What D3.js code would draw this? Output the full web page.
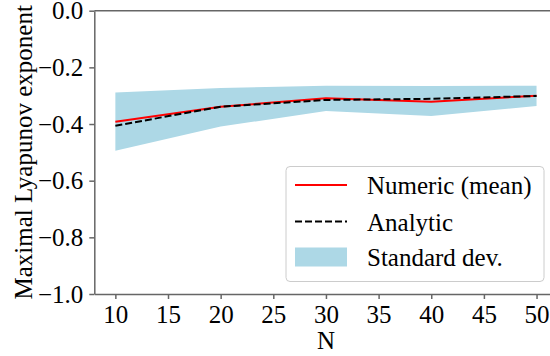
<!DOCTYPE html>
<html>
<head>
<meta charset="utf-8">
<script src="https://cdn.jsdelivr.net/npm/d3@7"></script>
<style>
  body { margin: 0; background: #fff; }
  svg text { font-family: "Liberation Serif", "Times New Roman", serif; }
</style>
</head>
<body>
<div id="container"></div>
<script>
/* DATA */
const Ns = [10, 20, 30, 40, 50];
const numericMean = [-0.392, -0.339, -0.309, -0.321, -0.300];
const analytic = [-0.406, -0.339, -0.315, -0.311, -0.301];
const stdUpper = [-0.289, -0.273, -0.265, -0.266, -0.265];
const stdLower = [-0.494, -0.409, -0.354, -0.372, -0.336];
const xTicks = [10, 15, 20, 25, 30, 35, 40, 45, 50];
const yTicks = [0, -0.2, -0.4, -0.6, -0.8, -1.0];
const legendLabels = ["Numeric (mean)", "Analytic", "Standard dev."];

/* CONSTANTS */
const width = 550, height = 356;
const fontSize = 25;

const rows = Ns.map((n, i) => ({
  N: n, mean: numericMean[i], ana: analytic[i], hi: stdUpper[i], lo: stdLower[i]
}));

// x axis is wider than the window; right spine falls outside
const xScale = d3.scaleLinear().domain([8, 52]).range([94.3, 557.6]);
const yScale = d3.scaleLinear().domain([-1, 0]).range([294, 10.7]);

const svg = d3.select("#container").append("svg")
  .attr("width", width)
  .attr("height", height);

// std band
svg.append("path")
  .datum(rows)
  .attr("fill", "#add8e6")
  .attr("d", d3.area()
    .x(d => xScale(d.N))
    .y0(d => yScale(d.lo))
    .y1(d => yScale(d.hi)));

svg.append("path")
  .datum(rows)
  .attr("fill", "none")
  .attr("stroke", "red")
  .attr("stroke-width", 2)
  .attr("d", d3.line().x(d => xScale(d.N)).y(d => yScale(d.mean)));

svg.append("path")
  .datum(rows)
  .attr("fill", "none")
  .attr("stroke", "black")
  .attr("stroke-width", 2)
  .attr("stroke-dasharray", "7,3")
  .attr("d", d3.line().x(d => xScale(d.N)).y(d => yScale(d.ana)));

// axes
const fmtY = d => d3.format(".1f")(d).replace("-", "\u2212");

const xAxisG = svg.append("g")
  .attr("transform", `translate(0,${yScale(-1)})`)
  .call(d3.axisBottom(xScale).tickValues(xTicks).tickSize(5).tickPadding(6).tickSizeOuter(0));

const yAxisG = svg.append("g")
  .attr("transform", `translate(${xScale(8)},0)`)
  .call(d3.axisLeft(yScale).tickValues(yTicks).tickFormat(fmtY).tickSize(5).tickPadding(6).tickSizeOuter(0));

[xAxisG, yAxisG].forEach(g => {
  g.attr("font-family", null).attr("font-size", fontSize);
  g.select(".domain").attr("stroke", "#666").attr("stroke-width", 1.5);
  g.selectAll(".tick line").attr("stroke", "#666").attr("stroke-width", 1.5);
  g.selectAll(".tick text").attr("fill", "black");
});

// top spine
svg.append("line")
  .attr("x1", xScale(8)).attr("x2", xScale(52))
  .attr("y1", yScale(0)).attr("y2", yScale(0))
  .attr("stroke", "#666").attr("stroke-width", 1.5);

// axis labels
svg.append("text")
  .attr("x", (xScale(8) + xScale(52)) / 2)
  .attr("y", 349)
  .attr("text-anchor", "middle")
  .attr("font-size", fontSize)
  .text("N");

svg.append("text")
  .attr("transform", `translate(32,${(yScale(0) + yScale(-1)) / 2}) rotate(-90)`)
  .attr("text-anchor", "middle")
  .attr("font-size", fontSize)
  .text("Maximal Lyapunov exponent");

// legend
const legend = svg.append("g");
legend.append("rect")
  .attr("x", 286).attr("y", 166.5)
  .attr("width", 258).attr("height", 115)
  .attr("rx", 4)
  .attr("fill", "white").attr("fill-opacity", 0.8)
  .attr("stroke", "#ccc").attr("stroke-width", 1);

const itemY = [185, 221.5, 257];
legend.append("line")
  .attr("x1", 295).attr("x2", 347).attr("y1", itemY[0]).attr("y2", itemY[0])
  .attr("stroke", "red").attr("stroke-width", 2);
legend.append("line")
  .attr("x1", 295).attr("x2", 347).attr("y1", itemY[1]).attr("y2", itemY[1])
  .attr("stroke", "black").attr("stroke-width", 2).attr("stroke-dasharray", "7,3");
legend.append("rect")
  .attr("x", 295).attr("y", itemY[2] - 9.5)
  .attr("width", 52).attr("height", 19)
  .attr("fill", "#add8e6");

legend.selectAll("text.lab")
  .data(legendLabels)
  .join("text")
  .attr("class", "lab")
  .attr("x", 367)
  .attr("y", (d, i) => itemY[i] + 9)
  .attr("font-size", fontSize)
  .text(d => d);
</script>
</body>
</html>
